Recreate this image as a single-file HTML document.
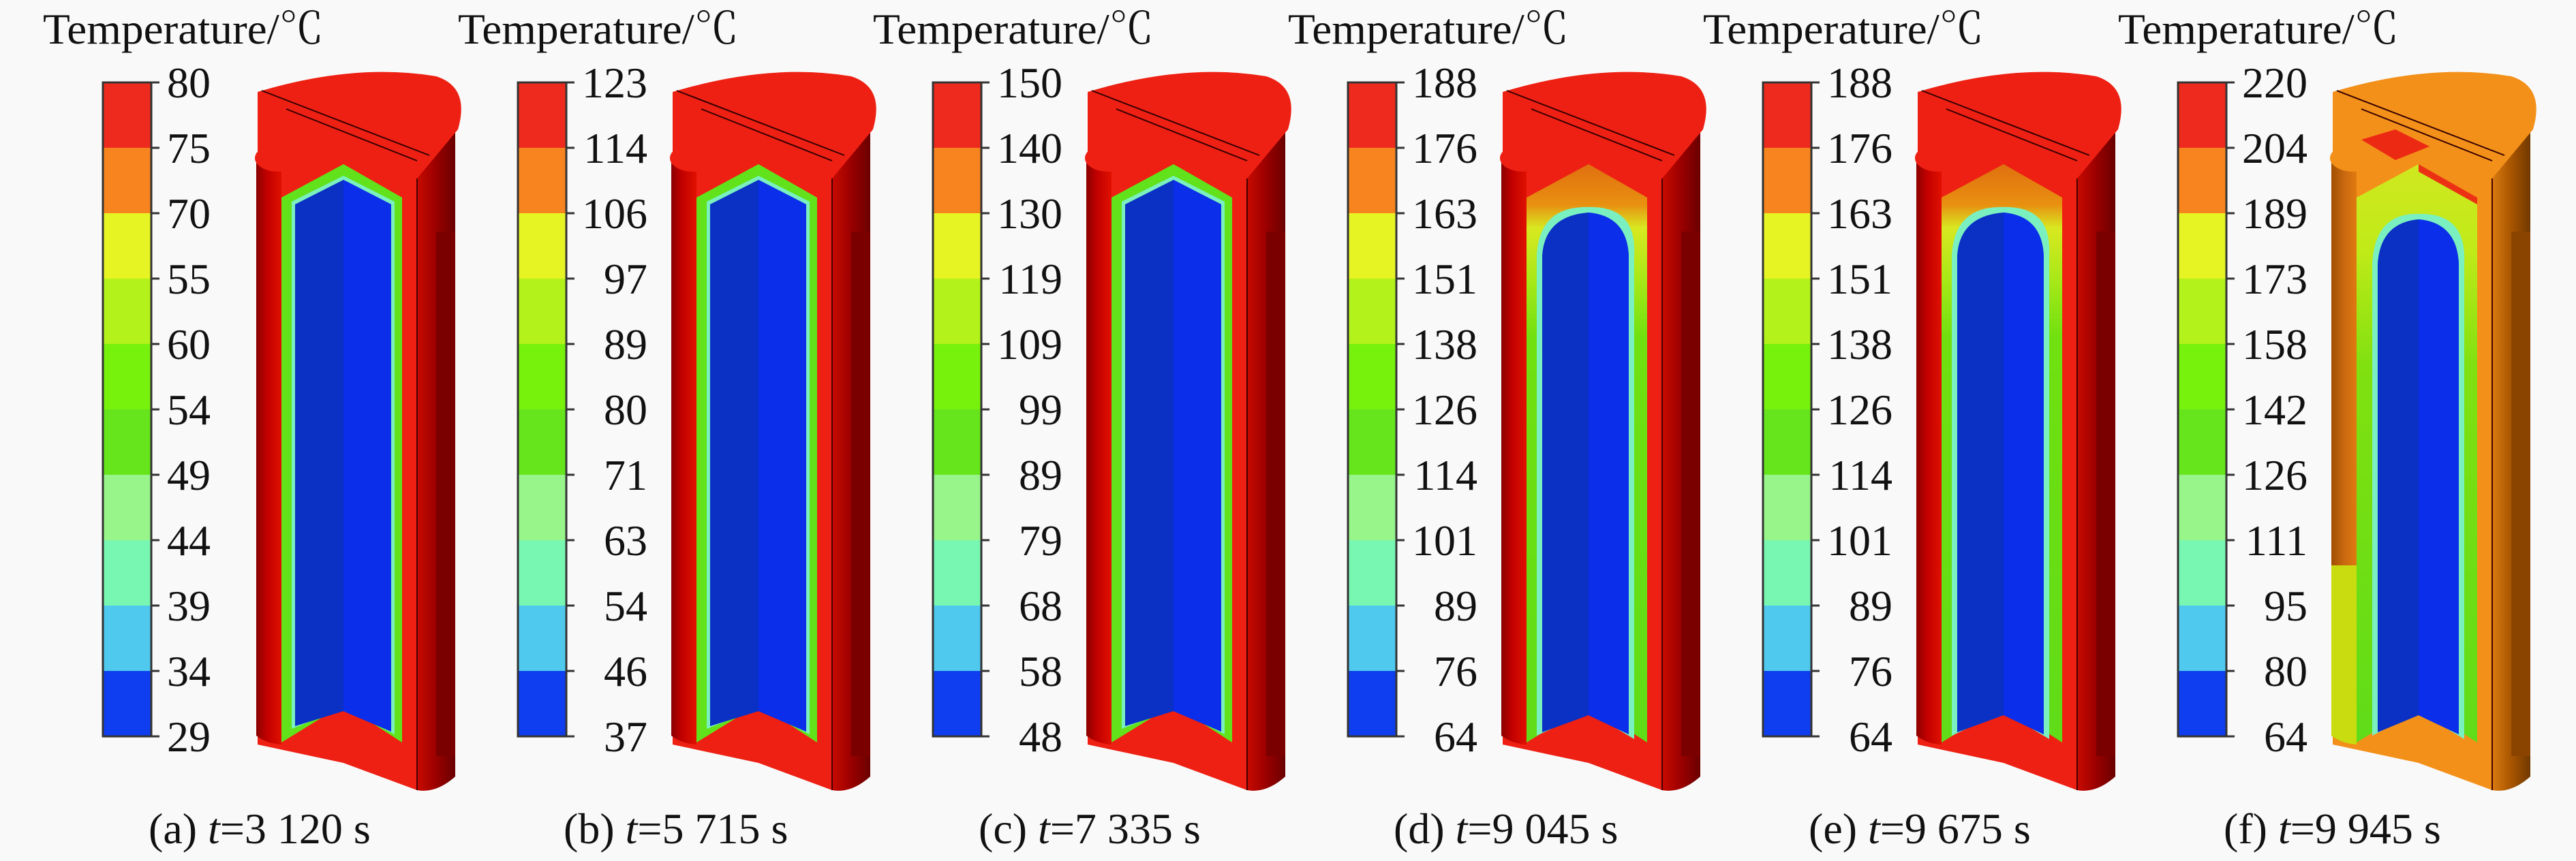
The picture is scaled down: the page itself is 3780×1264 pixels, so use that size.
<!DOCTYPE html>
<html><head><meta charset="utf-8"><style>
html,body{margin:0;padding:0;background:#f9f9f9;}
svg{display:block;}
text{font-family:"Liberation Serif","Noto Serif CJK SC",serif;}
</style></head><body>
<svg id="fig" width="3780" height="1264" viewBox="0 0 3780 1264" xmlns="http://www.w3.org/2000/svg">
<defs>
<linearGradient id="sideRed" x1="0" x2="1"><stop offset="0" stop-color="#c80a00"/><stop offset="0.5" stop-color="#9a0000"/><stop offset="1" stop-color="#6a0000"/></linearGradient>
<linearGradient id="leftRed" x1="0" x2="1"><stop offset="0" stop-color="#8a0000"/><stop offset="0.4" stop-color="#c00000"/><stop offset="1" stop-color="#e01000"/></linearGradient>
<linearGradient id="sideOr" x1="0" x2="1"><stop offset="0" stop-color="#d87a10"/><stop offset="0.5" stop-color="#a85500"/><stop offset="1" stop-color="#703800"/></linearGradient>
<linearGradient id="leftOr" x1="0" x2="1"><stop offset="0" stop-color="#a04e00"/><stop offset="0.5" stop-color="#c86810"/><stop offset="1" stop-color="#e07a10"/></linearGradient>
<linearGradient id="innerD" x1="0" y1="0" x2="0" y2="1"><stop offset="0" stop-color="#e07010"/><stop offset="0.07" stop-color="#e89010"/><stop offset="0.11" stop-color="#d8e820"/><stop offset="0.2" stop-color="#a8e818"/><stop offset="0.3" stop-color="#70e010"/><stop offset="1" stop-color="#60dc18"/></linearGradient>
<linearGradient id="innerF" x1="0" y1="0" x2="0" y2="1"><stop offset="0" stop-color="#d0e820"/><stop offset="0.15" stop-color="#c0ea18"/><stop offset="0.35" stop-color="#80e010"/><stop offset="1" stop-color="#60dc18"/></linearGradient>
</defs>
</svg>
<script>
const bandColors = ["#ee2a1e","#f7841e","#e6f423","#b3f21a","#77f20c","#66e41c","#97f58a","#78f7b3","#4fc9ee","#0f3ef0"];
const ticksA = ["80","75","70","55","60","54","49","44","39","34","29"];
const ticksB = ["123","114","106","97","89","80","71","63","54","46","37"];
const ticksC = ["150","140","130","119","109","99","89","79","68","58","48"];
const ticksD = ["188","176","163","151","138","126","114","101","89","76","64"];
const ticksE = ["188","176","163","151","138","126","114","101","89","76","64"];
const ticksF = ["220","204","189","173","158","142","126","111","95","80","64"];
const panelLetters = ["a","b","c","d","e","f"];
const panelTimes = ["3 120","5 715","7 335","9 045","9 675","9 945"];
const panelStates = ["early","early","early","mid","mid","late"];
const allTicks = [ticksA,ticksB,ticksC,ticksD,ticksE,ticksF];

const NS="http://www.w3.org/2000/svg";
const FONT='"Liberation Serif","Noto Serif CJK SC",serif';
const svg=document.getElementById('fig');
function mk(tag,attrs,parent){const e=document.createElementNS(NS,tag);for(const k in attrs)e.setAttribute(k,attrs[k]);parent.appendChild(e);return e;}

const barTop=121, barBot=1081, barX=151, barW=71, step=609;

allTicks.forEach((ticks,i)=>{
  const g=mk('g',{transform:`translate(${i*step},0)`},svg);
  
  
  const t=mk('text',{x:63,y:64,'font-size':64,'font-family':FONT,fill:'#111',textLength:412,lengthAdjust:'spacingAndGlyphs'},g);
  t.textContent='Temperature/℃';
  
  
  const cb=mk('g',{},g);
  
  
  const n=bandColors.length, bh=(barBot-barTop)/n;
  bandColors.forEach((c,j)=>{
    const r=mk('rect',{x:barX,y:barTop+j*bh,width:barW,height:bh+0.5,fill:c},cb);
    
    
  });
  mk('rect',{x:barX,y:barTop,width:barW,height:barBot-barTop,fill:'none',stroke:'#333',"stroke-width":3},cb);
  const maxLen=Math.max(...ticks.map(s=>s.length));
  const endX=barX+barW+23+32*maxLen;
  ticks.forEach((s,j)=>{
    const y=barTop+j*bh;
    mk('line',{x1:barX+barW,x2:barX+barW+12,y1:y,y2:y,stroke:'#333','stroke-width':3},cb);
    const tx=mk('text',{x:endX,y:y+22,'font-size':64,'font-family':FONT,'text-anchor':'end',fill:'#111'},cb);
    tx.textContent=s;
    
    
  });
  drawCyl(g,panelStates[i]);
  const cap=mk('text',{x:218,y:1238,'font-size':64,'font-family':FONT,fill:'#111'},g);
  
  
  cap.innerHTML=`(${panelLetters[i]}) <tspan font-style="italic">t</tspan>=${panelTimes[i]} s`;
});

function drawCyl(g,state){
  const c=mk('g',{},g);
  
  
  const late=state==='late';
  const face=late?'#f39019':'#ee2013';
  const side=late?'url(#sideOr)':'url(#sideRed)';
  const left=late?'url(#leftOr)':'url(#leftRed)';
  // right side
  mk('path',{d:'M612,180 L668,150 L668,1140 Q640,1165 612,1160 Z',fill:side},c);
  mk('rect',{x:640,y:340,width:28,height:770,fill:late?'#8a4400':'#7a0000'},c);
  // top disc + front face as one body
  mk('path',{d:'M378,135 Q520,92 640,112 Q690,128 672,190 L612,262 L612,1160 L504,1120 L378,1093 Z',fill:face},c);
  mk('path',{d:'M384,133 L630,228',stroke:'#300',"stroke-width":2,fill:'none'},c);
  mk('path',{d:'M420,160 L612,236',stroke:'#300',"stroke-width":2,fill:'none'},c);
  mk('path',{d:'M612,262 L612,1160',stroke:'#400',"stroke-width":2,fill:'none'},c);
  // left column
  mk('path',{d:'M376,232 L413,232 L413,1093 Q392,1092 376,1080 Z',fill:left},c);
  if(late) mk('path',{d:'M376,830 L413,830 L413,1093 Q392,1092 376,1080 Z',fill:'#c8dc10'},c);
  mk('ellipse',{cx:408,cy:232,rx:34,ry:20,fill:face},c);
  if(late) mk('path',{d:'M420,205 L470,190 L520,215 L470,235 Z',fill:'#ec2a14'},c);
  // inner region
  const inner='M413,290 L504,241 L590,290 L590,1090 L504,1034 L413,1090 Z';
  const innerFill=state==='early'?'#62e21a':(state==='mid'?'url(#innerD)':'url(#innerF)');
  mk('path',{d:inner,fill:innerFill},c);
  if(late) mk('path',{d:'M504,241 L590,290 L590,300 L504,252 Z',fill:'#ec3014'},c);
  let core,coreR;
  if(state==='early'){
    mk('path',{d:'M428,296 L504,258 L579,296 L579,1078 L504,1040 L428,1070 Z',fill:'#7af0c0'},c);
    core='M433,300 L504,264 L574,300 L574,1074 L504,1044 L433,1066 Z';
    coreR='M504,264 L574,300 L574,1074 L504,1044 Z';
  } else {
    const top=state==='mid'?312:322, sh=state==='mid'?375:387, xl=state==='mid'?436:444;
    mk('path',{d:`M${xl-8},1080 L${xl-8},${sh} Q${xl-4},${top-10} 504,${top-8} Q${571+4},${top-10} 571,${sh} L571,1085 L504,1045 Z`,fill:'#7af0c0'},c);
    core=`M${xl},1075 L${xl},${sh} Q${xl+4},${top+5} 504,${top} Q560,${top+5} 563,${sh} L563,1078 L504,1050 Z`;
    coreR=`M504,${top} Q560,${top+5} 563,${sh} L563,1078 L504,1050 Z`;
  }
  mk('path',{d:core,fill:'#0a30c4'},c);
  mk('path',{d:coreR,fill:'#0a2eea'},c);
}
</script>
</body></html>
